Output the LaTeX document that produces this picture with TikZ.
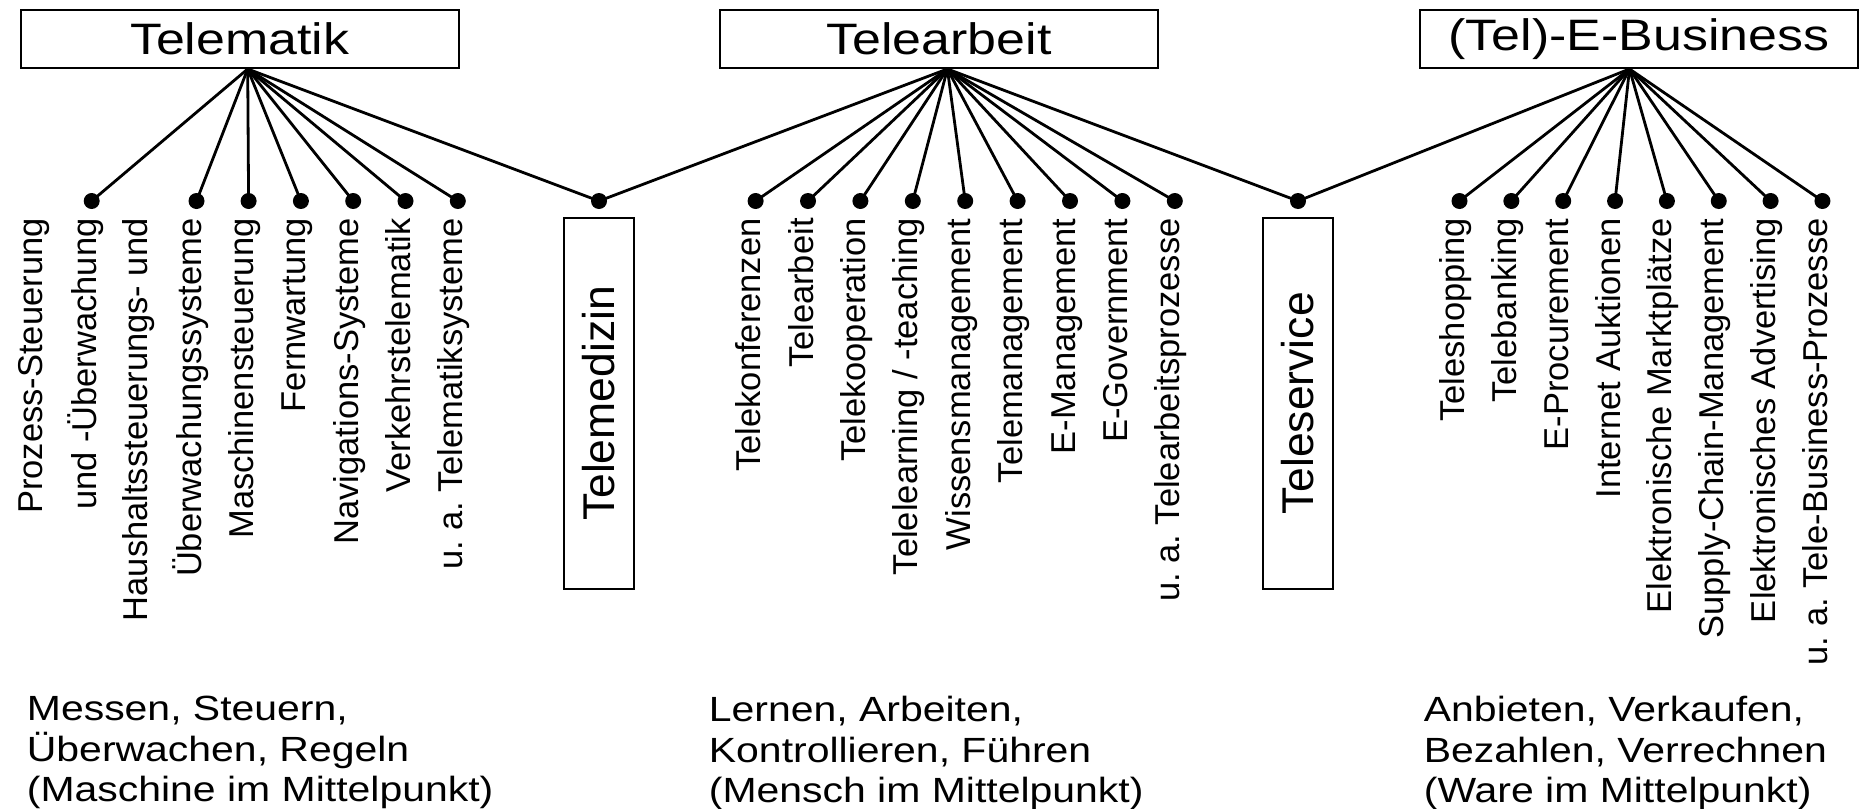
\documentclass[tikz,border=0pt]{standalone}
\usepackage{fontspec}
\setmainfont{Liberation Sans}
\newfontfamily\titlefont[FakeStretch=1.18]{Liberation Sans}
\newfontfamily\notefont[FakeStretch=1.17]{Liberation Sans}
\usetikzlibrary{calc}

\tikzset{
	hubbox/.style={draw, line width=1pt, minimum width=219pt, minimum height=29pt, inner sep=0pt, font=\titlefont\fontsize{22}{25}\selectfont},
	sidebox/.style={draw, line width=1pt, rotate=90, anchor=east, minimum width=185.5pt, minimum height=35pt, inner sep=0pt, font=\fontsize{22.25}{26}\selectfont},
	leaf/.style={circle, fill, inner sep=0pt, minimum size=8pt},
	lbl/.style={rotate=90, anchor=base east, inner sep=0pt, font=\fontsize{17.25}{27}\selectfont},
	lbltwo/.style={lbl, anchor=east, align=right},
	branch/.style={line width=1.4pt},
	note/.style={anchor=north west, align=left, inner sep=0pt, font=\notefont\fontsize{17.5}{20.25}\selectfont}
}

\begin{document}
\frenchspacing
\begin{tikzpicture}[x=0.5pt, y=-0.5pt]
	\useasboundingbox (0,0) rectangle (1860,809);

	% top boxes
	\node[hubbox] (telematik) at (239.7,39) {Telematik};
	\node[hubbox] (telearbeit) at (939,39) {Telearbeit};
	\node[hubbox] (ebusiness) at (1639,39) {(Tel)-E-Business};

	\coordinate (tm-hub) at ([xshift=4pt]telematik.south);
	\coordinate (ta-hub) at ([xshift=4.2pt]telearbeit.south);
	\coordinate (eb-hub) at ([xshift=-4.75pt]ebusiness.south);

	% shared fields
	\node[leaf] (tmed-dot) at (599,201) {};
	\node[leaf] (tserv-dot) at (1298,201) {};
	\node[sidebox] (telemedizin) at ([yshift=-8pt]tmed-dot.center) {Telemedizin};
	\node[sidebox] (teleservice) at ([yshift=-8pt]tserv-dot.center) {Teleservice};

	% Telematik
	\foreach \n/\x in {1/91.7, 2/196.5, 3/248.6, 4/300.9, 5/353.2, 6/405.5, 7/457.8}
		\node[leaf] (tm-\n) at (\x,201) {};
	\node[lbltwo] (tm-1-text) at ([xshift=-15.4pt,yshift=-8.5pt]tm-1.center) {Prozess-Steuerung\\und -Überwachung};
	\node[lbltwo] (tm-2-text) at ([xshift=-15.4pt,yshift=-8.5pt]tm-2.center) {Haushaltssteuerungs- und\\Überwachungssysteme};
	\foreach \n/\txt in {3/Maschinensteuerung, 4/Fernwartung, 5/Navigations-Systeme, 6/Verkehrstelematik, 7/u. a. Telematiksysteme}
		\node[lbl] (tm-\n-text) at ([xshift=2.5pt,yshift=-8.5pt]tm-\n.center) {\txt};
	\foreach \n in {1,...,7}
		\draw[branch] (tm-hub) -- (tm-\n.center);
	\draw[branch] (tm-hub) -- (tmed-dot.center);

	% Telearbeit
	\foreach \n/\txt [evaluate=\n as \x using 755.6+52.4*(\n-1)] in {1/Telekonferenzen, 2/Telearbeit, 3/Telekooperation, 4/{Telelearning / -teaching}, 5/Wissensmanagement, 6/Telemanagement, 7/E-Management, 8/E-Government, 9/u. a. Telearbeitsprozesse}{
		\node[leaf] (ta-\n) at (\x,201) {};
		\node[lbl] (ta-\n-text) at ([xshift=2.5pt,yshift=-8.5pt]ta-\n.center) {\txt};
		\draw[branch] (ta-hub) -- (ta-\n.center);
	}
	\draw[branch] (ta-hub) -- (tmed-dot.center);
	\draw[branch] (ta-hub) -- (tserv-dot.center);

	% E-Business
	\foreach \n/\txt [evaluate=\n as \x using 1459.5+51.85*(\n-1)] in {1/Teleshopping, 2/Telebanking, 3/E-Procurement, 4/Internet Auktionen, 5/Elektronische Marktplätze, 6/Supply-Chain-Management, 7/Elektronisches Advertising, 8/u. a. Tele-Business-Prozesse}{
		\node[leaf] (eb-\n) at (\x,201) {};
		\node[lbl] (eb-\n-text) at ([xshift=2.5pt,yshift=-8.5pt]eb-\n.center) {\txt};
		\draw[branch] (eb-hub) -- (eb-\n.center);
	}
	\draw[branch] (eb-hub) -- (tserv-dot.center);

	% bottom notes
	\node[note] (tm-note) at (26.5,696) {Messen, Steuern,\\Überwachen, Regeln\\(Maschine im Mittelpunkt)};
	\node[note] (ta-note) at (708.5,696) {Lernen, Arbeiten,\\Kontrollieren, Führen\\(Mensch im Mittelpunkt)};
	\node[note] (eb-note) at (1423.5,696) {Anbieten, Verkaufen,\\Bezahlen, Verrechnen\\(Ware im Mittelpunkt)};
\end{tikzpicture}
\end{document}
